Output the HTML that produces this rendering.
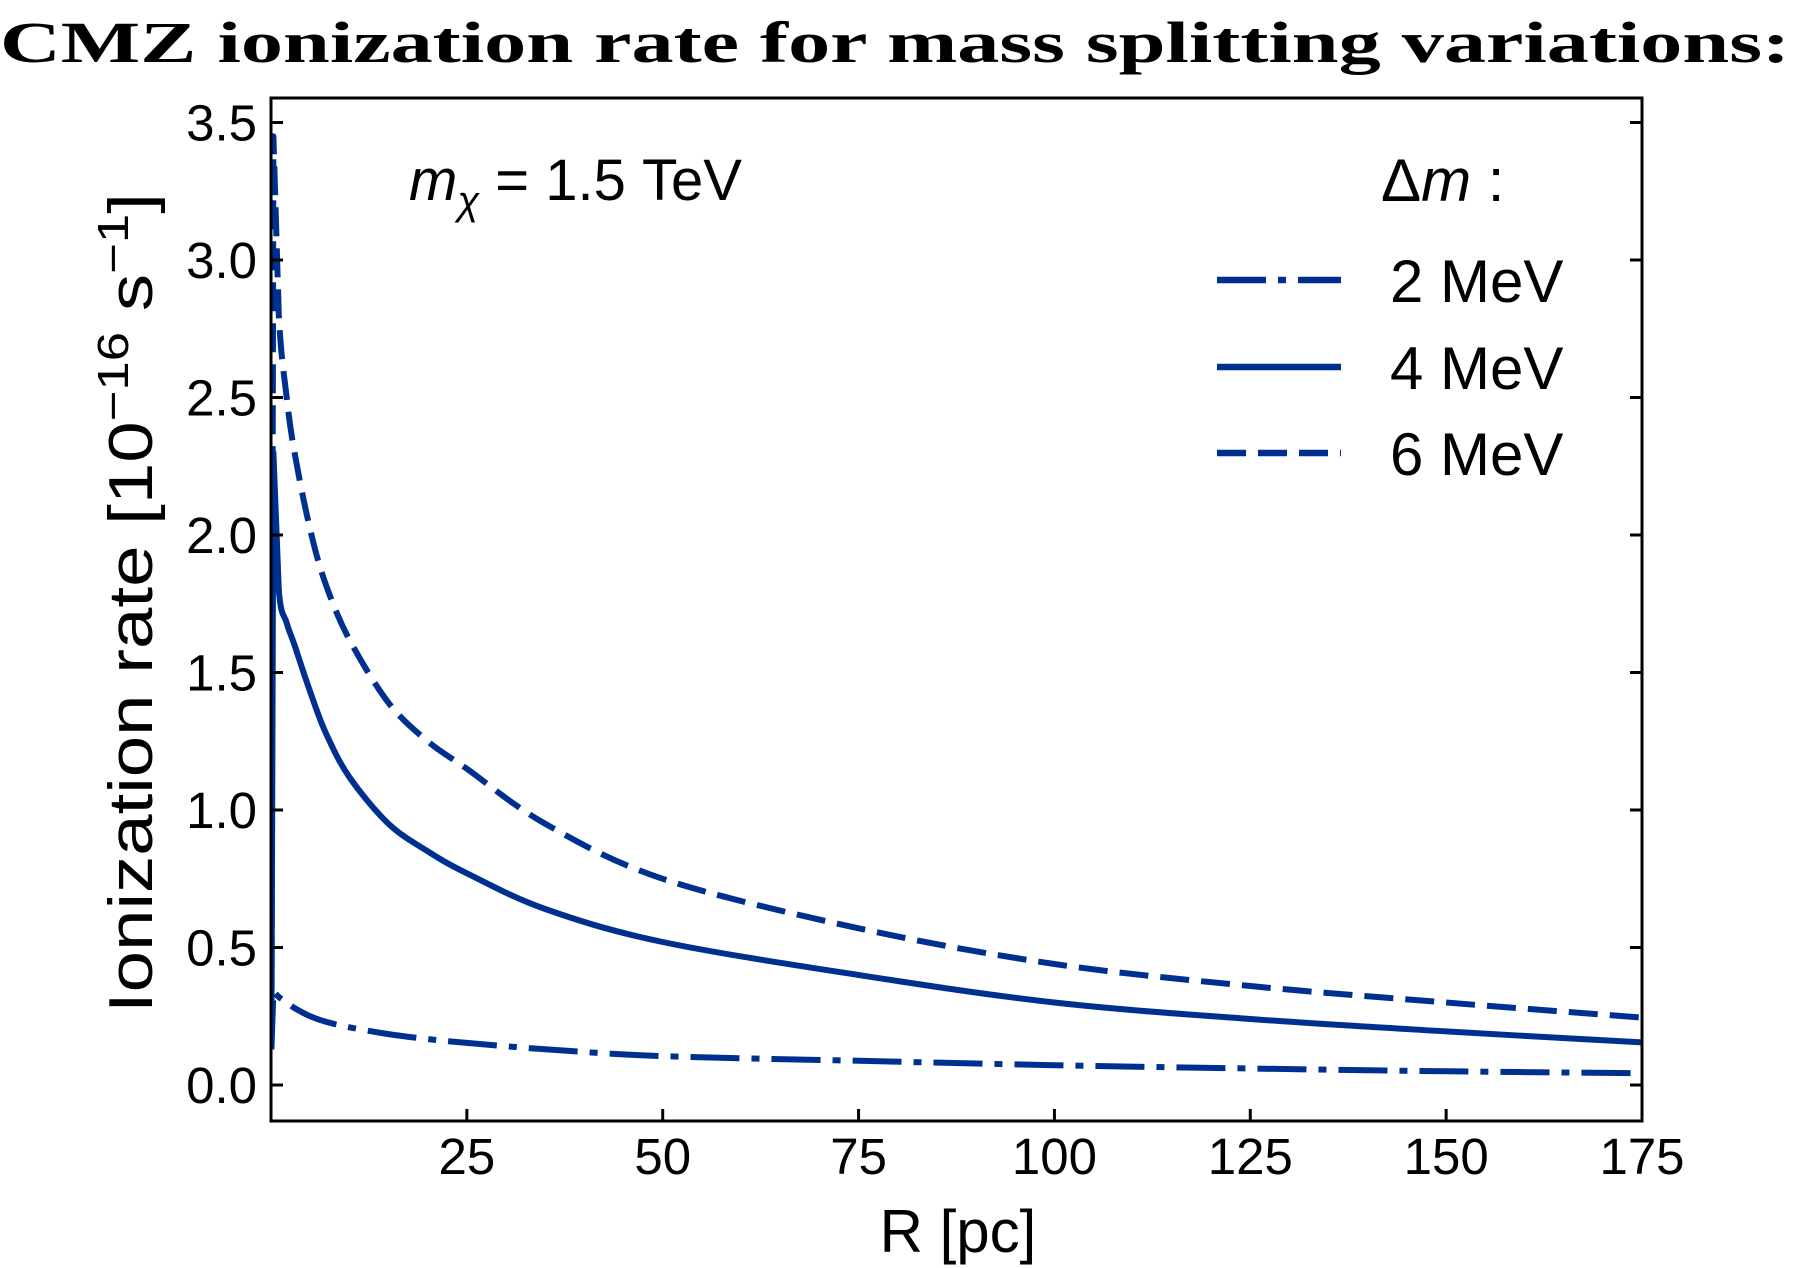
<!DOCTYPE html>
<html><head><meta charset="utf-8"><style>
html,body{margin:0;padding:0;background:#fff;}
svg{display:block;}
text{font-family:"Liberation Sans",sans-serif;fill:#000;}
</style></head><body>
<svg id="chart" width="1793" height="1268" viewBox="0 0 1793 1268" xmlns="http://www.w3.org/2000/svg">
<text x="0" y="62" textLength="1790" lengthAdjust="spacingAndGlyphs" style="font-family:'Liberation Serif',serif;font-weight:bold;font-size:58px">CMZ ionization rate for mass splitting variations:</text>
<g id="plot"></g>
</svg>
<script>
const xTicks = [25,50,75,100,125,150,175];
const yTicks = [0.0,0.5,1.0,1.5,2.0,2.5,3.0,3.5];
const rVals = [0.05,0.3,1,2,3,5,7,10,15,20,25,35,50,75,100,125,150,175];
const rate2 = [0.13,0.34,0.32,0.3,0.28,0.25,0.23,0.21,0.185,0.167,0.153,0.13,0.105,0.088,0.072,0.06,0.05,0.043];
const rate4 = [0.13,2.3,1.8,1.68,1.6,1.43,1.28,1.12,0.95,0.85,0.77,0.64,0.52,0.4,0.3,0.24,0.195,0.155];
const rate6 = [0.13,3.45,2.8,2.5,2.3,2.02,1.82,1.62,1.39,1.25,1.15,0.95,0.75,0.57,0.44,0.36,0.3,0.245];
const seriesLabels = ["2 MeV","4 MeV","6 MeV"];

const L=271,R=1642,T=98,B=1121;
const xMin=0,xMax=175,y0px=1085,pxPerUnit=275;
const X=v=>L+(v-xMin)/(xMax-xMin)*(R-L);
const Y=v=>y0px-v*pxPerUnit;
const NS="http://www.w3.org/2000/svg";
const g=document.getElementById('plot');
function mk(tag,attrs){const e=document.createElementNS(NS,tag);for(const k in attrs)e.setAttribute(k,attrs[k]);g.appendChild(e);return e;}
function smooth(p){
  let d='M'+p[0][0].toFixed(1)+','+p[0][1].toFixed(1);
  for(let i=0;i<p.length-1;i++){
    const p0=p[i-1]||p[i],p1=p[i],p2=p[i+1],p3=p[i+2]||p2;
    let c1x=p1[0]+(p2[0]-p0[0])/6,c1y=p1[1]+(p2[1]-p0[1])/6;
    let c2x=p2[0]-(p3[0]-p1[0])/6,c2y=p2[1]-(p3[1]-p1[1])/6;
    if(i<2){c1x=p1[0];c1y=p1[1];c2x=p2[0];c2y=p2[1];}
    d+=' C'+c1x.toFixed(1)+','+c1y.toFixed(1)+' '+c2x.toFixed(1)+','+c2y.toFixed(1)+' '+p2[0].toFixed(1)+','+p2[1].toFixed(1);
  }
  return d;
}

const clip=mk('clipPath',{id:'clp'});
const cr=document.createElementNS(NS,'rect');cr.setAttribute('x',L);cr.setAttribute('y',T);cr.setAttribute('width',R-L);cr.setAttribute('height',B-T);clip.appendChild(cr);

const styles=[{d:'49 12 8 12'},{d:''},{d:'29 12'}];
const data=[rate2,rate4,rate6];
data.forEach((arr,i)=>{
  const pts=rVals.map((r,j)=>[X(r),Y(arr[j])]);
  const p=mk('path',{d:smooth(pts),fill:'none',stroke:'#00308f','stroke-width':6,'stroke-linejoin':'round','clip-path':'url(#clp)'});
  if(styles[i].d)p.setAttribute('stroke-dasharray',styles[i].d);
  
  
});

const frame=mk('rect',{x:L,y:T,width:R-L,height:B-T,fill:'none',stroke:'#000','stroke-width':3});



xTicks.forEach(v=>{
  const t=mk('line',{x1:X(v),x2:X(v),y1:B,y2:B-12,stroke:'#000','stroke-width':3});
  
  
  const lb=mk('text',{x:X(v),y:1174,'text-anchor':'middle','font-size':51});
  lb.textContent=v;
  
  
});
yTicks.forEach(v=>{
  const t=mk('line',{x1:L,x2:L+12,y1:Y(v),y2:Y(v),stroke:'#000','stroke-width':3});
  
  
  const t2=mk('line',{x1:R,x2:R-12,y1:Y(v),y2:Y(v),stroke:'#000','stroke-width':3});
  
  
  const lb=mk('text',{x:257,y:Y(v)+18,'text-anchor':'end','font-size':51});
  lb.textContent=v.toFixed(1);
  
  
});

const xt=mk('text',{x:958,y:1252,'text-anchor':'middle','font-size':60});
xt.textContent='R [pc]';



const yt=mk('text',{x:0,y:0,'text-anchor':'middle','font-size':62,textLength:820,lengthAdjust:'spacingAndGlyphs',transform:'translate(152,603) rotate(-90)'});
yt.innerHTML='Ionization rate [10<tspan dy="-24" font-size="44">−16</tspan><tspan dy="24"> s</tspan><tspan dy="-24" font-size="44">−1</tspan><tspan dy="24">]</tspan>';



const an=mk('text',{x:409,y:200,'font-size':58});
an.innerHTML='<tspan font-style="italic">m</tspan><tspan font-style="italic" font-size="40" dy="14">χ</tspan><tspan dy="-14"> = 1.5 TeV</tspan>';



const lt=mk('text',{x:1381,y:201,'font-size':60});
lt.innerHTML='Δ<tspan font-style="italic">m</tspan> :';



const legY=[280,367,453];
seriesLabels.forEach((s,i)=>{
  const ln=mk('line',{x1:1217,x2:1341,y1:legY[i],y2:legY[i],stroke:'#00308f','stroke-width':6.5});
  if(styles[i].d)ln.setAttribute('stroke-dasharray',styles[i].d);
  
  
  const lb=mk('text',{x:1390,y:legY[i]+22,'font-size':60});
  lb.textContent=s;
  
  
});
</script>
</body></html>
